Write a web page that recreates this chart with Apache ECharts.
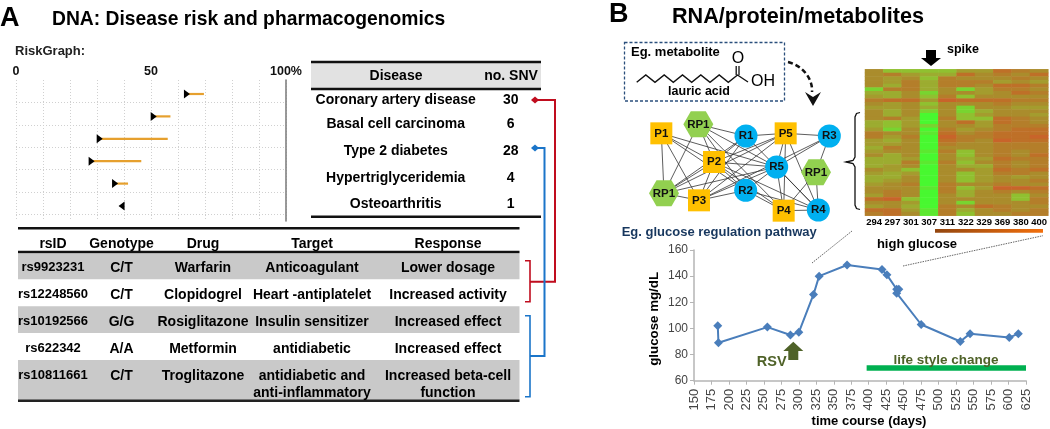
<!DOCTYPE html>
<html><head><meta charset="utf-8"><style>html,body{margin:0;padding:0;background:#fff}#c{width:1050px;height:429px}</style>
<script src="https://cdn.jsdelivr.net/npm/echarts@6/dist/echarts.min.js"></script></head>
<body><div id="c"></div><script>
// ---------- RiskGraph ----------
const riskLow  = [63.3, 51, 31, 28, 36.7, 39.1];
const riskHigh = [69.6, 57.2, 56.2, 46.4, 41.5, null];
const riskDir  = [-90, -90, -90, -90, -90, 90];
// ---------- Disease table ----------
const diseaseNames = ['Coronary artery disease','Basal cell carcinoma','Type 2 diabetes','Hypertriglyceridemia','Osteoarthritis'];
const snvCounts = ['30','6','28','4','1'];
// ---------- Pharmacogenomic table ----------
const pgxHeader = ['rsID','Genotype','Drug','Target','Response'];
const rsIDs = ['rs9923231','rs12248560','rs10192566','rs622342','rs10811661'];
const genotypes = ['C/T','C/T','G/G','A/A','C/T'];
const drugs = ['Warfarin','Clopidogrel','Rosiglitazone','Metformin','Troglitazone'];
const targets = ['Anticoagulant','Heart -antiplatelet','Insulin sensitizer','antidiabetic','antidiabetic and\nanti-inflammatory'];
const responses = ['Lower dosage','Increased activity','Increased effect','Increased effect','Increased beta-cell\nfunction'];
// ---------- Glucose ----------
const glucoseDays = [184,185,255,288,300,321,329,369,419,426,440,443,440,475,531,545,601,614];
const glucoseVals = [102,89,101,95,97,126,140,148.5,145,141,130,130,127,103,90,96,93,96];
const lifeStyleDays = [397,625];
const lifeStyleLevel = [69.7,69.7];
// ---------- Heatmap (0 = red-orange, 9 = bright green) ----------
const heatDays = ['294','297','301','307','311','322','329','369','380','400'];
const h294=[3,3,3,3,3,7,5,4,2,3,4,3,3,3,5,5,4,2,2,4,4,5,4,3,5,5,5,3,4,5,5,4,3,3,4,1,3,4,1,2];
const h297=[6,2,4,4,5,2,5,5,1,4,4,5,5,2,6,6,7,3,4,5,4,2,3,5,5,5,4,4,5,5,4,3,3,2,2,0,3,3,1,1];
const h301=[6,4,3,2,2,2,3,3,1,3,3,3,3,4,4,4,3,3,2,3,3,3,3,3,4,2,3,6,4,3,3,2,3,3,3,6,4,5,4,3];
const h307=[6,5,6,5,5,5,7,6,4,6,5,7,9,9,9,7,9,8,9,9,9,9,8,9,9,8,9,9,9,9,9,9,8,9,9,9,9,9,8,8];
const h311=[6,5,2,2,2,3,3,2,0,3,3,3,3,2,3,3,2,1,0,1,2,3,2,3,3,2,3,3,3,3,3,2,2,2,3,3,3,2,2,2];
const h322=[4,1,3,2,2,7,3,6,1,3,7,7,6,6,1,3,4,3,2,2,3,3,6,6,5,6,5,3,6,6,6,3,6,5,5,3,7,3,5,6];
const h329=[4,3,3,2,3,4,4,3,1,3,3,5,4,6,4,4,3,2,2,3,3,3,3,3,4,3,5,4,4,4,4,3,4,3,3,3,3,1,3,3];
const h369=[1,2,3,4,1,2,3,3,1,2,3,3,3,1,1,2,2,1,1,0,2,2,2,2,1,2,2,1,2,3,3,2,0,2,3,3,3,2,2,3];
const h380=[2,3,2,3,1,2,1,3,2,3,4,3,3,2,2,2,1,1,1,1,2,2,3,3,2,3,3,2,2,4,3,3,0,3,6,6,3,3,3,2];
const h400=[3,1,3,4,2,3,2,3,2,3,4,3,4,3,3,2,1,1,0,1,2,2,2,1,2,2,2,1,3,3,2,3,1,2,3,2,2,3,2,2];
const heatCols = [h294,h297,h301,h307,h311,h322,h329,h369,h380,h400];
// ---------- Network ----------
const netNames = ['P1','RP1','R1','P5','R3','P2','R5','RP1','RP1','P3','R2','P4','R4'];
const netKinds = ['p','h','r','p','r','p','r','h','h','p','r','p','r'];
const netX = [184,295,438,557,688,342,530,648,192,297,437,551,655];
const netY = [310,283,318,310,318,396,411,427,490,511,481,542,540];
const netEdges = [[0,5],[0,9],[0,8],[0,6],[0,10],[1,8],[1,2],[1,5],[1,10],[1,6],[1,11],[2,3],[2,12],[2,8],[2,9],[2,5],
 [3,4],[3,5],[3,6],[3,9],[3,11],[3,12],[3,8],[4,6],[4,7],[4,9],[5,6],[5,10],[5,9],[5,12],[5,8],[5,11],[6,10],[6,11],[6,12],[6,8],
 [10,9],[10,12],[10,11],[7,12],[7,11],[11,12],[8,9],[9,6]];

const F='"Liberation Sans",Arial,sans-serif';
function T(text,x,y,size,o){o=o||{};return {type:'text',z:20,x:x,y:y,style:{text:text,fill:o.fill||'#000',
  font:(o.weight||'bold')+' '+size+'px '+F,textAlign:o.align||'center',textVerticalAlign:'middle',align:o.align||'center',verticalAlign:'middle'}};}
function L(pts,color,w,dash){return {type:'polyline',z:15,shape:{points:pts},style:{stroke:color,lineWidth:w,fill:null,lineDash:dash||null}};}
function R(x,y,w,h,fill){return {type:'rect',z:1,shape:{x:x,y:y,width:w,height:h},style:{fill:fill}};}
function P(pts,fill){return {type:'polygon',z:16,shape:{points:pts},style:{fill:fill}};}

const g=[];
// Titles
g.push(T('A',0,19,27,{align:'left'}));
g.push(T('DNA: Disease risk and pharmacogenomics',52,20,19.3,{align:'left'}));
g.push(T('B',609,15,27,{align:'left'}));
g.push(T('RNA/protein/metabolites',672,17,21.6,{align:'left'}));
g.push(T('RiskGraph:',15,51,13,{align:'left',fill:'#222'}));
// Disease table
g.push(R(311,62,230,26,'#e2e2e2'));
g.push(L([[311,62],[541,62]],'#111',2.5),L([[311,89],[541,89]],'#111',2.5),L([[311,216.7],[541,216.7]],'#111',2.5));
g.push(T('Disease',396,76,14),T('no. SNV',511,76,14));
const diseaseY=[100,124,150.7,177.7,204];
diseaseNames.forEach((n,i)=>{g.push(T(n,395.7,diseaseY[i],14),T(snvCounts[i],510.7,diseaseY[i],14));});
// PGx table
const rowTop=[253.5,279.2,306.3,333,360], rowH=[25.7,27,26.7,27,40], rowY=[268.2,295.3,322.4,349.5,376.3], colX=[53,121.5,203,312,448];
[0,2,4].forEach(i=>g.push(R(18,rowTop[i],501.5,rowH[i],'#c9c9c9')));
g.push(L([[18,228.3],[519.5,228.3]],'#111',2.5),L([[18,252],[519.5,252]],'#111',2.5),L([[18,400.7],[519.5,400.7]],'#222',2.5));
pgxHeader.forEach((h,i)=>g.push(T(h,colX[i],244.4,14)));
const cols=[rsIDs,genotypes,drugs,targets,responses];
cols.forEach((c,ci)=>c.forEach((v,ri)=>{v.split('\n').forEach((line,k)=>g.push(T(line,colX[ci],(ci==0?-1:0)+rowY[ri]+k*17.1,ci==0?13:14)));}));
// Connectors
const red='#c00d1e',blue='#1b75c9';
g.push(P([[531,100],[535,96.5],[539,100],[535,103.5]],red),L([[535,100],[555,100],[555,281.7],[530,281.7]],red,2));
g.push(L([[525,260.7],[530,260.7],[530,301.7],[525,301.7]],red,1.6));
g.push(P([[531,148],[535,144.5],[539,148],[535,151.5]],blue),L([[535,148],[544.5,148],[544.5,356],[530,356]],blue,2));
g.push(L([[525,315.7],[530,315.7],[530,396.7],[525,396.7]],blue,1.6));
// Metabolite box
g.push({type:'rect',z:5,shape:{x:624.5,y:42.5,width:160,height:58.5},style:{fill:'#fff',stroke:'#2a4f7c',lineWidth:1.3,lineDash:[3,2]}});
g.push(T('Eg. metabolite',631,52,13,{align:'left'}));
const chain=[[636.7,82.3],[645.8,75],[655,82.3],[664.2,75],[673.3,82.3],[682.5,75],[691.7,82.3],[700.8,75],[710,82.3],[719.2,75],[728.3,82.3],[737.5,75],[748,82]];
g.push(L(chain,'#111',1.4),L([[736.2,75],[736.2,66]],'#111',1.3),L([[739,75],[739,66]],'#111',1.3));
g.push(T('O',738,59,16,{weight:'normal'}),T('OH',763,82,16,{weight:'normal'}),T('lauric acid',699,92,12.5));
g.push({type:'bezierCurve',z:15,shape:{x1:788,y1:62,x2:812,y2:92,cpx1:804,cpy1:66,cpx2:813,cpy2:80},style:{stroke:'#111',lineWidth:2.5,fill:null,lineDash:[5,3]}});
g.push(P([[805,92],[813,97],[821,92],[813,106]],'#111'));
g.push(T('Eg. glucose regulation pathway',621.7,232,13,{align:'left',fill:'#17375e'}));
// Brace
const brace=[[860,112.5],[856.5,113.5],[855,117],[855,157],[853,160.5],[846,162],[853,163.5],[855,167],[855,205],[856.5,208.5],[860,209.5]];
g.push(L(brace,'#111',1.3));
// Heatmap annotations
g.push(T('spike',963,50,12.5));
g.push(P([[926,50],[936,50],[936,58],[941,58],[931,66],[921,58],[926,58]],'#000'));
g.push({type:'rect',z:5,shape:{x:935,y:229,width:108,height:3.8},style:{fill:new echarts.graphic.LinearGradient(0,0,1,0,[{offset:0,color:'#93460f'},{offset:1,color:'#f26f0c'}])}});
g.push(T('high glucose',917,244,13));
g.push(L([[812,263],[852,231]],'#555',0.9,[1.5,1]),L([[903,266],[1043,235.7]],'#555',0.9,[1.5,1]));
// Glucose annotations
const olive='#4f6228';
g.push(P([[793.3,341.7],[803.3,351],[798.3,351],[798.3,360],[788.3,360],[788.3,351],[783.3,351]],olive));
g.push(T('RSV',771.7,361.5,14.5,{fill:olive}));
g.push(T('life style change',946,360,13.5,{fill:olive}));

const hexPath='path://M0 50 L25 0 L75 0 L100 50 L75 100 L25 100 Z';
const netStyle={p:{symbol:'rect',symbolSize:22,color:'#ffc000'},r:{symbol:'circle',symbolSize:23,color:'#00b0f0'},h:{symbol:hexPath,symbolSize:[30,26],color:'#92d050'}};
const netData=netNames.map((n,i)=>{const s=netStyle[netKinds[i]];return {id:'n'+i,name:n,value:[netX[i],netY[i]],symbol:s.symbol,symbolSize:s.symbolSize,itemStyle:{color:s.color}};});
const heatData=[];heatCols.forEach((c,x)=>c.forEach((v,y)=>heatData.push([x,y,v])));
const heatRows=h294.map((_,i)=>'g'+i);

const option={
 animation:false,backgroundColor:'#fff',textStyle:{fontFamily:F},
 grid:[
  {left:16,width:270,top:80,height:141},
  {left:694,width:332,top:250,height:130.7},
  {left:865,width:184.5,top:69.3,height:146.4},
  {left:600,width:260,top:30,height:215}
 ],
 xAxis:[
  {gridIndex:0,type:'value',position:'top',min:0,max:100,interval:10,axisLine:{show:false},axisTick:{show:false},
   axisLabel:{margin:2,color:'#111',fontWeight:'bold',fontSize:12.5,fontFamily:F,formatter:v=>v===0?'0':v===50?'50':v===100?'100%':''},
   splitLine:{show:true,lineStyle:{color:'#d0d0d0',type:[1,2],width:1}}},
  {gridIndex:1,type:'value',min:150,max:625,interval:25,name:'time course (days)',nameLocation:'middle',nameGap:34,
   nameTextStyle:{fontWeight:'bold',fontSize:13,color:'#000',fontFamily:F,padding:[0,0,0,18]},
   axisLine:{lineStyle:{color:'#b5b5b5',width:1.5}},axisTick:{length:4,lineStyle:{color:'#b5b5b5',width:1}},
   axisLabel:{rotate:90,margin:8,color:'#444',fontSize:13,fontFamily:F,hideOverlap:false},splitLine:{show:false}},
  {gridIndex:2,type:'category',data:heatDays,axisLine:{show:false},axisTick:{show:false},
   axisLabel:{margin:2,interval:0,color:'#000',fontWeight:'bold',fontSize:9.5,fontFamily:F},splitLine:{show:false}},
  {gridIndex:3,type:'value',min:0,max:780,show:false}
 ],
 yAxis:[
  {gridIndex:0,type:'value',position:'right',inverse:true,min:-0.625,max:5.67,interval:1,
   axisLine:{show:true,onZero:false,lineStyle:{color:'#808080',width:1.6}},axisTick:{show:false},axisLabel:{show:false},
   splitLine:{show:true,showMinLine:false,showMaxLine:false,lineStyle:{color:'#d0d0d0',type:[1,2],width:1}}},
  {gridIndex:1,type:'value',min:60,max:160,interval:20,name:'glucose mg/dL',nameLocation:'middle',nameGap:33,
   nameTextStyle:{fontWeight:'bold',fontSize:13.3,color:'#000',fontFamily:F,padding:[0,7,0,0]},
   axisLine:{show:true,lineStyle:{color:'#b5b5b5',width:1.5}},axisTick:{show:true,length:4,lineStyle:{color:'#b5b5b5',width:1}},
   axisLabel:{margin:6,color:'#444',fontSize:12,fontFamily:F},splitLine:{show:false}},
  {gridIndex:2,type:'category',inverse:true,data:heatRows,show:false},
  {gridIndex:3,type:'value',inverse:true,min:0,max:645,show:false}
 ],
 visualMap:[{show:false,seriesIndex:4,dimension:2,min:0,max:9,inRange:{color:['#c8642a','#be7028','#b47e2a','#aa8c2c','#a49c2e','#9cac30','#90c030','#78d430','#5ce830','#48f830']}}],
 graphic:{elements:g},
 series:[
  {name:'risk range',type:'custom',xAxisIndex:0,yAxisIndex:0,silent:true,z:3,
   data:riskLow.map((v,i)=>[v,riskHigh[i],i]).filter(d=>d[1]!==null),
   encode:{x:[0,1],y:2},
   renderItem:(p,api)=>{const a=api.coord([api.value(0),api.value(2)]),b=api.coord([api.value(1),api.value(2)]);
     return {type:'line',shape:{x1:a[0],y1:a[1],x2:b[0],y2:b[1]},style:{stroke:'#e6a02e',lineWidth:2.2}};}},
  {name:'risk marker',type:'scatter',xAxisIndex:0,yAxisIndex:0,silent:true,z:4,symbol:'triangle',symbolSize:[9,6],
   itemStyle:{color:'#000',opacity:1},data:riskLow.map((v,i)=>({value:[v,i],symbolRotate:riskDir[i]}))},
  {name:'glucose',type:'line',xAxisIndex:1,yAxisIndex:1,z:5,silent:true,symbol:'diamond',symbolSize:9,
   lineStyle:{color:'#4a7ebb',width:2},itemStyle:{color:'#4a7ebb'},data:glucoseDays.map((d,i)=>[d,glucoseVals[i]])},
  {name:'life style',type:'line',xAxisIndex:1,yAxisIndex:1,z:3,silent:true,symbol:'none',
   lineStyle:{color:'#00b050',width:5.5,cap:'butt'},data:lifeStyleDays.map((d,i)=>[d,lifeStyleLevel[i]])},
  {name:'heat',type:'heatmap',xAxisIndex:2,yAxisIndex:2,silent:true,data:heatData,emphasis:{disabled:true},itemStyle:{borderWidth:0}},
  {name:'network',type:'graph',coordinateSystem:'cartesian2d',xAxisIndex:3,yAxisIndex:3,silent:true,roam:false,z:6,
   data:netData,links:netEdges.map(e=>({source:'n'+e[0],target:'n'+e[1]})),
   lineStyle:{color:'#333',width:0.8,opacity:1,curveness:0},
   label:{show:true,position:'inside',color:'#111',fontWeight:'bold',fontSize:11.5,fontFamily:F,formatter:p=>p.name}}
 ]
};
echarts.init(document.getElementById('c'),null,{renderer:'canvas'}).setOption(option);
</script></body></html>
